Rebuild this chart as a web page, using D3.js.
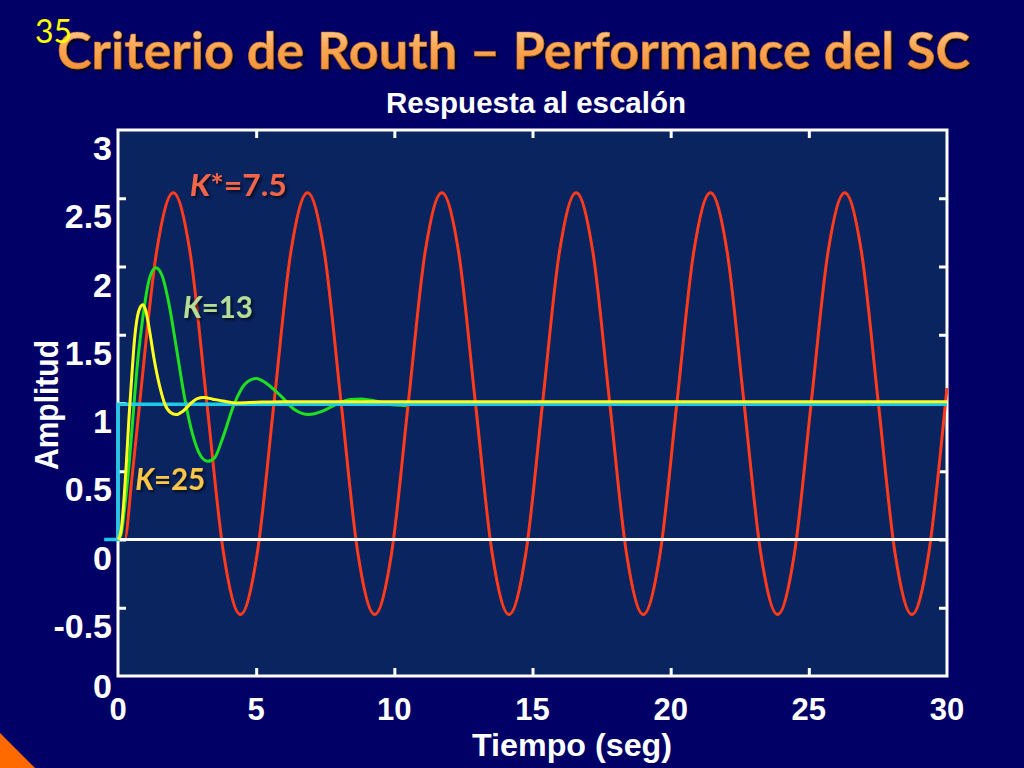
<!DOCTYPE html>
<html><head><meta charset="utf-8">
<script src="https://cdn.jsdelivr.net/npm/d3@7"></script>
<style>html,body{margin:0;padding:0;background:#000066;overflow:hidden}</style>
</head><body>
<svg id="c" width="1024" height="768"></svg>
<script>
// ---------- data ----------
const chartTitle = "Criterio de Routh \u2013 Performance del SC";
const slideNumber = "35";
const subTitle = "Respuesta al escal\u00f3n";
const xTitle = "Tiempo (seg)";
const yTitle = "Amplitud";
const xTickValues = [0, 5, 10, 15, 20, 25, 30];
const xTickLabels = ["0", "5", "10", "15", "20", "25", "30"];
const yTickValues = [3, 2.5, 2, 1.5, 1, 0.5, 0, -0.5, -1];
const yTickLabels = ["3", "2.5", "2", "1.5", "1", "0.5", "0", "-0.5", "0"];

// K* = 7.5 (sustained oscillation)
const redT = [0, 0.24, 0.5, 0.785, 1.39, 2.0, 2.61, 3.215, 3.82, 4.43, 5.04, 5.645, 6.25, 6.86, 7.47, 8.075, 8.68, 9.29, 9.9, 10.505, 11.11, 11.72, 12.33, 12.935, 13.54, 14.15, 14.76, 15.365, 15.97, 16.58, 17.19, 17.795, 18.4, 19.01, 19.62, 20.225, 20.83, 21.44, 22.05, 22.655, 23.26, 23.87, 24.48, 25.085, 25.69, 26.3, 26.91, 27.515, 28.12, 28.73, 29.34, 29.945, 30];
const redV = [0, 0, 0.44, 1.0, 2.10, 2.54, 2.10, 1.0, -0.10, -0.55, -0.10, 1.0, 2.10, 2.54, 2.10, 1.0, -0.10, -0.55, -0.10, 1.0, 2.10, 2.54, 2.10, 1.0, -0.10, -0.55, -0.10, 1.0, 2.10, 2.54, 2.10, 1.0, -0.10, -0.55, -0.10, 1.0, 2.10, 2.54, 2.10, 1.0, -0.10, -0.55, -0.10, 1.0, 2.10, 2.54, 2.10, 1.0, -0.10, -0.55, -0.10, 1.0, 1.11];
// K = 13
const greenT = [0, 0.1, 0.25, 0.4, 0.55, 0.7, 0.85, 1.0, 1.15, 1.37, 1.6, 1.85, 2.1, 2.4, 2.7, 3.0, 3.25, 3.5, 3.8, 4.2, 4.6, 5.0, 5.4, 5.9, 6.4, 6.9, 7.4, 7.9, 8.4, 8.8, 9.3, 9.8, 10.45];
const greenV = [0, 0.03, 0.25, 0.55, 0.92, 1.28, 1.55, 1.77, 1.92, 1.99, 1.93, 1.72, 1.42, 1.05, 0.77, 0.61, 0.573, 0.6, 0.75, 0.99, 1.14, 1.18, 1.14, 1.05, 0.95, 0.915, 0.94, 0.99, 1.025, 1.03, 1.015, 0.99, 0.98];
// K = 25
const yellowT = [0, 0.1, 0.2, 0.3, 0.4, 0.5, 0.6, 0.7, 0.8, 0.9, 1.0, 1.15, 1.3, 1.5, 1.7, 1.9, 2.1, 2.35, 2.6, 2.85, 3.1, 3.4, 3.8, 4.3, 5.0, 6.0, 30];
const yellowV = [0, 0.05, 0.25, 0.55, 0.9, 1.2, 1.47, 1.63, 1.7, 1.72, 1.68, 1.52, 1.33, 1.13, 0.99, 0.93, 0.915, 0.94, 0.99, 1.03, 1.04, 1.03, 1.015, 1.0, 1.005, 1.01, 1.01];
// unit step input
const stepT = [-0.5, 0, 0, 30];
const stepV = [0, 0, 0.99, 0.99];

const labelTexts = [["K", "*=7.5"], ["K", "=13"], ["K", "=25"]];
const labelT = [2.6, 2.35, 0.62];
const labelV = [2.52, 1.62, 0.36];
const labelColors = ["#f2654a", "#b4de98", "#f9c646"];

// ---------- drawing ----------
const svg = d3.select("#c");
const W = 1024, H = 768;
const plot = {l: 118, r: 947, t: 130, b: 676};
const x = d3.scaleLinear().domain([0, 30]).range([plot.l, plot.r]);
const y = d3.scaleLinear().domain([-1, 3]).range([plot.b, plot.t]);

const defs = svg.append("defs");
const g1 = defs.append("linearGradient").attr("id", "tg").attr("x1", 0).attr("y1", 0).attr("x2", 0).attr("y2", 1);
g1.append("stop").attr("offset", "0%").attr("stop-color", "#ffdcb0");
g1.append("stop").attr("offset", "45%").attr("stop-color", "#f9a857");
g1.append("stop").attr("offset", "100%").attr("stop-color", "#ee8a2e");
const f = defs.append("filter").attr("id", "sh").attr("x", "-5%").attr("y", "-20%").attr("width", "110%").attr("height", "150%");
f.append("feDropShadow").attr("dx", 2).attr("dy", 2).attr("stdDeviation", 1.5).attr("flood-color", "#000").attr("flood-opacity", 0.7);

svg.append("rect").attr("width", W).attr("height", H).attr("fill", "#000066");
svg.append("polygon").attr("points", "0,733 0,768 35,768").attr("fill", "#ff6a00");

// title
svg.append("text").attr("x", 57).attr("y", 69)
  .attr("font-family", "Lato, 'Open Sans', sans-serif").attr("font-weight", 700).attr("font-size", 51)
  .attr("textLength", 913).attr("lengthAdjust", "spacingAndGlyphs")
  .attr("fill", "url(#tg)").attr("stroke", "#c86a1a").attr("stroke-width", 0.6)
  .attr("filter", "url(#sh)").text(chartTitle);
svg.append("text").attr("x", 35).attr("y", 43)
  .attr("font-family", "Lato, 'Open Sans', sans-serif").attr("font-size", 32)
  .attr("fill", "#ffff00").text(slideNumber);

// subtitle
svg.append("text").attr("x", 536).attr("y", 113).attr("text-anchor", "middle")
  .attr("font-family", "'Liberation Sans', Arial, sans-serif").attr("font-weight", 700).attr("font-size", 30)
  .attr("textLength", 300).attr("lengthAdjust", "spacingAndGlyphs")
  .attr("fill", "#ffffff").text(subTitle);

// plot background
svg.append("rect").attr("x", plot.l).attr("y", plot.t).attr("width", plot.r - plot.l).attr("height", plot.b - plot.t)
  .attr("fill", "#0a2460");

// axes with inward ticks
const tickLen = 8;
const innerY = yTickValues.filter(v => v > -1 && v < 3);
const innerX = xTickValues.filter(v => v > 0 && v < 30);
const axL = svg.append("g").attr("transform", `translate(${plot.l},0)`)
  .call(d3.axisRight(y).tickValues(innerY).tickSize(tickLen).tickFormat(""));
const axR = svg.append("g").attr("transform", `translate(${plot.r},0)`)
  .call(d3.axisLeft(y).tickValues(innerY).tickSize(tickLen).tickFormat(""));
const axB = svg.append("g").attr("transform", `translate(0,${plot.b})`)
  .call(d3.axisTop(x).tickValues(innerX).tickSize(tickLen).tickFormat(""));
const axT = svg.append("g").attr("transform", `translate(0,${plot.t})`)
  .call(d3.axisBottom(x).tickValues(innerX).tickSize(tickLen).tickFormat(""));
[axL, axR, axB, axT].forEach(a => {
  a.select(".domain").remove();
  a.selectAll(".tick line").attr("stroke", "#ffffff").attr("stroke-width", 3);
});
svg.append("rect").attr("x", plot.l).attr("y", plot.t).attr("width", plot.r - plot.l).attr("height", plot.b - plot.t)
  .attr("fill", "none").attr("stroke", "#ffffff").attr("stroke-width", 3);

// tick labels
const tf = "'Liberation Sans', Arial, sans-serif";
svg.append("g").selectAll("text").data(yTickValues).join("text")
  .attr("x", 112).attr("y", (d, i) => y(d) + (i === yTickValues.length - 1 ? 10 : 18))
  .attr("text-anchor", "end").attr("dominant-baseline", "central")
  .attr("font-family", tf).attr("font-weight", 700).attr("font-size", 34).attr("fill", "#fff")
  .text((d, i) => yTickLabels[i]);
svg.append("g").selectAll("text").data(xTickValues).join("text")
  .attr("x", d => x(d)).attr("y", 720)
  .attr("text-anchor", "middle")
  .attr("font-family", tf).attr("font-weight", 700).attr("font-size", 31).attr("fill", "#fff")
  .text((d, i) => xTickLabels[i]);

// axis titles
svg.append("text").attr("x", 572).attr("y", 756).attr("text-anchor", "middle")
  .attr("font-family", tf).attr("font-weight", 700).attr("font-size", 31)
  .attr("textLength", 200).attr("lengthAdjust", "spacingAndGlyphs")
  .attr("fill", "#fff").text(xTitle);
svg.append("text").attr("transform", "translate(58,405) rotate(-90)").attr("text-anchor", "middle")
  .attr("font-family", tf).attr("font-weight", 700).attr("font-size", 34)
  .attr("textLength", 130).attr("lengthAdjust", "spacingAndGlyphs")
  .attr("fill", "#fff").text(yTitle);

// curves
const zip = (T, V) => T.map((t, i) => [t, V[i]]);
const lineSmooth = d3.line().x(d => x(d[0])).y(d => y(d[1])).curve(d3.curveMonotoneX);
const lineStep = d3.line().x(d => x(d[0])).y(d => y(d[1]));
const curveG = svg.append("g").attr("fill", "none").attr("stroke-width", 3).attr("stroke-linejoin", "round");
curveG.append("path").attr("d", lineSmooth(zip(redT, redV))).attr("stroke", "#ff3b1a");
curveG.append("path").attr("d", lineSmooth(zip(greenT, greenV))).attr("stroke", "#1ee01e");
// zero reference line
svg.append("line").attr("x1", plot.l).attr("x2", plot.r).attr("y1", y(0)).attr("y2", y(0))
  .attr("stroke", "#fff").attr("stroke-width", 3);
svg.append("path").attr("fill", "none").attr("stroke-width", 3.5)
  .attr("d", lineStep(zip(stepT, stepV))).attr("stroke", "#1ec8e8");
svg.append("path").attr("fill", "none").attr("stroke-width", 3).attr("stroke-linejoin", "round")
  .attr("d", lineSmooth(zip(yellowT, yellowV))).attr("stroke", "#ffff1e");

// annotations
const labelWidths = [97, 70, 70];
labelTexts.forEach((parts, i) => {
  const t = svg.append("text").attr("x", x(labelT[i])).attr("y", y(labelV[i]))
    .attr("font-family", "Lato, 'Open Sans', sans-serif").attr("font-weight", 700).attr("font-size", 30)
    .attr("textLength", labelWidths[i]).attr("lengthAdjust", "spacingAndGlyphs")
    .attr("fill", labelColors[i]).attr("filter", "url(#sh)");
  t.append("tspan").attr("font-style", "italic").text(parts[0]);
  t.append("tspan").text(parts[1]);
});
</script>
</body></html>
